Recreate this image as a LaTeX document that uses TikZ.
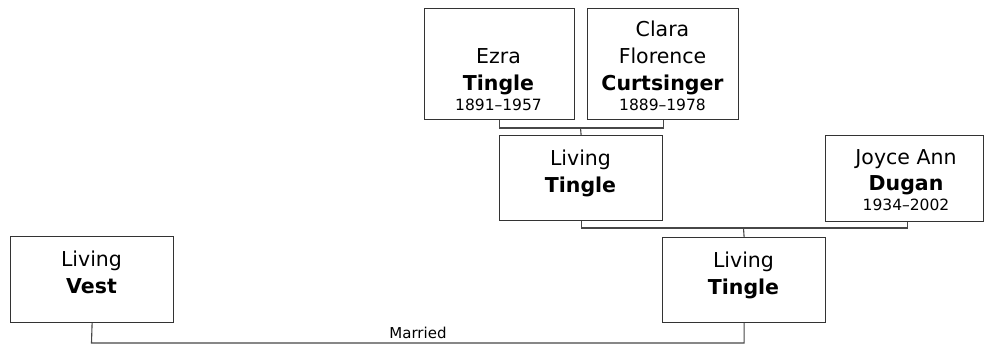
\documentclass[tikz,border=0pt]{standalone}
\usepackage{fontspec}
\setmainfont{DejaVu Sans}
\begin{document}
\begin{tikzpicture}[x=1pt,y=-1pt,
  box/.style={draw=black!80, line width=1.2pt, fill=white, inner sep=0pt, anchor=north west},
  link/.style={draw=black!72, line width=1.1pt},
  nm/.style={anchor=base, inner sep=0pt, font=\fontsize{20.5}{24}\selectfont},
  sur/.style={anchor=base, inner sep=0pt, font=\fontsize{20.5}{24}\selectfont\bfseries},
  yr/.style={anchor=base, inner sep=0pt, font=\fontsize{15.5}{18}\selectfont},
  lbl/.style={anchor=base, inner sep=0pt, font=\fontsize{15}{18}\selectfont}]
\useasboundingbox (0,0) rectangle (984,346);

% boxes
\node[box, minimum width=150pt, minimum height=111pt] (ezra) at (423.5,8) {};
\node[box, minimum width=151pt, minimum height=111pt] (clara) at (587,8) {};
\node[box, minimum width=163pt, minimum height=85pt] (mtingle) at (499,135) {};
\node[box, minimum width=158pt, minimum height=86pt] (joyce) at (825,135) {};
\node[box, minimum width=163pt, minimum height=86pt] (vest) at (10,236) {};
\node[box, minimum width=163pt, minimum height=85pt] (ltingle) at (662,237) {};

% texts
\node[nm]  (ezra1) at (498.5,63) {Ezra};
\node[sur] (ezra2) at (498.5,90) {Tingle};
\node[yr]  (ezra3) at (498.5,110) {1891–1957};

\node[nm]  (clara1) at (662.5,36) {Clara};
\node[nm]  (clara2) at (662.5,63) {Florence};
\node[sur] (clara3) at (662.5,90) {Curtsinger};
\node[yr]  (clara4) at (662.5,110) {1889–1978};

\node[nm]  (mt1) at (580.5,165) {Living};
\node[sur] (mt2) at (580.5,192) {Tingle};

\node[nm]  (jo1) at (906,164) {Joyce Ann};
\node[sur] (jo2) at (906,190) {Dugan};
\node[yr]  (jo3) at (906,210) {1934–2002};

\node[nm]  (ve1) at (91.5,266) {Living};
\node[sur] (ve2) at (91.5,293) {Vest};

\node[nm]  (lt1) at (743.5,267) {Living};
\node[sur] (lt2) at (743.5,294) {Tingle};

% connectors
\coordinate (j1) at (580.5,128);
\draw[link] (ezra.south) |- (j1) -| (clara.south);
\draw[link] (j1) -- (mtingle.north);

\coordinate (j2) at (743.5,228);
\draw[link] (mtingle.south) |- (j2) -| ([xshift=2.5pt]joyce.south);
\draw[link] (j2) -- (ltingle.north);

\coordinate (m1) at (91.5,343);
\draw[link] (vest.south) -- (m1) -| (ltingle.south);
\node[lbl] (married) at (418,338) {Married};
\end{tikzpicture}
\end{document}
